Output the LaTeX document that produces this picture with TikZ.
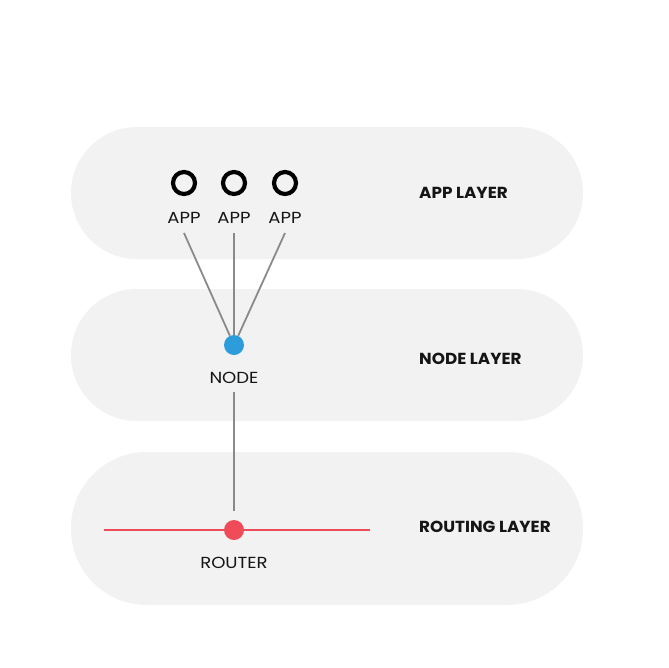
\documentclass[tikz,border=0pt]{standalone}
\usepackage{fontspec}
\setmainfont{Poppins}
\newfontfamily\lblfont[FakeStretch=1.13]{Poppins}
\newfontfamily\layerfont[FakeStretch=1.05]{Poppins}
\definecolor{pill}{HTML}{F2F2F3}
\definecolor{wire}{HTML}{8A8A8A}
\definecolor{nodeblue}{HTML}{2D9CDB}
\definecolor{routered}{HTML}{EF4B58}
\definecolor{ink}{HTML}{151515}
\begin{document}
\begin{tikzpicture}[x=1pt,y=-1pt,
  pillbox/.style={fill=pill},
  layertext/.style={anchor=west,inner sep=0pt,text=ink,font=\layerfont\fontsize{16}{18}\selectfont\bfseries},
  lbl/.style={inner sep=0pt,text=ink,font=\lblfont\fontsize{16}{18}\selectfont},
  appring/.style={circle,draw=black,line width=4.2pt,minimum size=22pt,inner sep=0pt},
  dot/.style={circle,minimum size=20pt,inner sep=0pt},
  wireline/.style={draw=wire,line width=1.8pt}]
\useasboundingbox (0,0) rectangle (669,667);
\fill[white] (0,0) rectangle (669,667);
% pills
\fill[pillbox,rounded corners=66pt] (71,127) rectangle (583,259);
\fill[pillbox,rounded corners=66pt] (71,289) rectangle (583,421);
\fill[pillbox,rounded corners=76pt] (71,452) rectangle (583,605);
% layer labels
\node[layertext] (lapp) at (419,193) {APP LAYER};
\node[layertext] (lnode) at (419,359) {NODE LAYER};
\node[layertext] (lrout) at (419,527) {ROUTING LAYER};
% apps
\node[appring] (a1) at (184,183) {};
\node[appring] (a2) at (234,183) {};
\node[appring] (a3) at (285,183) {};
\node[lbl] (t1) at (184,217.5) {APP};
\node[lbl] (t2) at (234,217.5) {APP};
\node[lbl] (t3) at (285,217.5) {APP};
% node
\node[dot,fill=nodeblue] (nd) at (234,345) {};
\node[lbl] (tn) at (234,378) {NODE};
% router
\coordinate (rl) at (104,530);
\coordinate (rr) at (370,530);
\draw[routered,line width=1.8pt] (rl) -- (rr);
\node[dot,fill=routered] (rt) at (234,530) {};
\node[lbl] (tr) at (234,563) {ROUTER};
% wires
\coordinate (w1) at (184,233);
\coordinate (w2) at (234,233);
\coordinate (w3) at (285,233);
\draw[wireline] (w1) -- (nd);
\draw[wireline] (w2) -- (nd);
\draw[wireline] (w3) -- (nd);
\coordinate (v1) at (234,392);
\coordinate (v2) at (234,511);
\draw[wireline] (v1) -- (v2);
\end{tikzpicture}
\end{document}
